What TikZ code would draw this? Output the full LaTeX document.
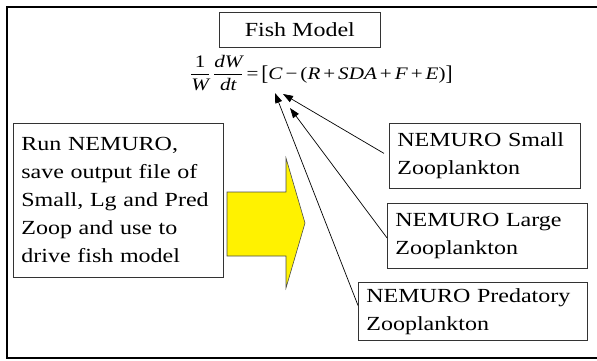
\documentclass[tikz,border=0pt]{standalone}
\usepackage{fontspec}
\setmainfont{Liberation Serif}[FakeStretch=1.2]
\usetikzlibrary{arrows.meta}
\begin{document}
\begin{tikzpicture}[x=1pt,y=-1pt,
  box/.style={draw=black!80, line width=0.8pt, anchor=north west, inner xsep=8pt, inner ysep=0pt,
    align=left, font=\fontsize{20}{28}\selectfont},
  conn/.style={line width=0.7pt, -{Triangle[length=10pt,width=7pt]}},
  frameline/.style={line width=2.2pt, line cap=rect},
  bigarrow/.style={fill=yellow, draw=black!70, line width=0.6pt, line join=miter}]
\useasboundingbox (0,0) rectangle (597,360);
% outer frame (right side runs off the picture)
\draw[frameline] (599,7) -- (7,7) -- (7,358) -- (599,358);
% title
\node[box, minimum width=161pt, minimum height=35pt, align=center] (fish) at (219,12) {Fish Model};
% equation
\node[anchor=base west, inner sep=0pt, font=\fontsize{17.6}{20}\selectfont] (eq) at (190,79)
  {$\displaystyle\frac{\mbox{1}}{\mbox{\itshape W}}\,\frac{\mbox{\itshape dW}}{\mbox{\itshape dt}}\mbox{\,=\,}\mbox{\raisebox{-1.5pt}{\scalebox{1}[1.2]{[}}}\mbox{\textit{C}\,−\,(\textit{R}\,+\,\textit{SDA}\,+\,\textit{F}\,+\,\textit{E})}\mbox{\raisebox{-1.5pt}{\scalebox{1}[1.2]{]}}}$};
% left box
\node[box, minimum width=210pt, minimum height=154pt, text width=194pt] (run) at (13,123)
  {Run NEMURO,\\save output file of\\Small, Lg and Pred\\Zoop and use to\\drive fish model};
% yellow block arrow
\draw[bigarrow] (227,192) -- (286,192) -- (286,158) -- (305,223) -- (286,288) -- (286,256) -- (227,256) -- cycle;
% right boxes
\node[box, minimum width=191pt, minimum height=65pt, text width=175pt] (small) at (389,123)
  {NEMURO Small\\Zooplankton};
\node[box, minimum width=200pt, minimum height=65pt, text width=184pt] (large) at (387,203)
  {NEMURO Large\\Zooplankton};
\node[box, minimum width=229pt, minimum height=58pt, text width=213pt] (pred) at (358,282)
  {NEMURO Predatory\\Zooplankton};
% connectors
\coordinate (tipP) at (275,93);
\coordinate (tipS) at (283,94);
\coordinate (tipL) at (290,108);
\draw[conn] ([xshift=-5pt,yshift=2.5pt]small.west) -- (tipS);
\draw[conn] ([yshift=-2pt]large.west) -- (tipL);
\draw[conn] ([yshift=6pt]pred.west) -- (tipP);
\end{tikzpicture}
\end{document}
